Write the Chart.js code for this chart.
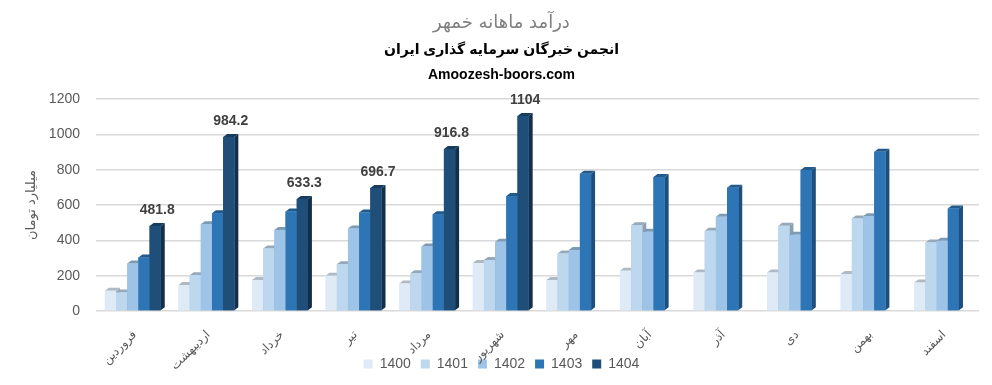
<!DOCTYPE html>
<html>
<head>
<meta charset="utf-8">
<script src="https://cdn.jsdelivr.net/npm/chart.js@4"></script>
<style>
  html, body { margin: 0; padding: 0; background: #fff; }
  #wrap { width: 992px; height: 385px; position: relative; }
</style>
</head>
<body>
<div id="wrap"><canvas id="incomeChart"></canvas></div>
<script>
// data
const months = ['فروردین', 'اردیبهشت', 'خرداد', 'تیر', 'مرداد', 'شهریور', 'مهر', 'آبان', 'آذر', 'دی', 'بهمن', 'اسفند'];
const years = ['1400', '1401', '1402', '1403', '1404'];
const y1400 = [115, 147, 175, 200, 156, 271, 175, 228, 218, 218, 209, 162];
const y1401 = [105, 203, 354, 265, 213, 288, 325, 486, 454, 482, 523, 388];
const y1402 = [269, 491, 459, 467, 365, 392, 345, 448, 533, 431, 537, 397];
const y1403 = [303, 553, 563, 557, 548, 651, 777, 758, 698, 798, 901, 580];
const y1404 = [481.8, 984.2, 633.3, 696.7, 916.8, 1104, null, null, null, null, null, null];
const yTicks = [0, 200, 400, 600, 800, 1000, 1200];

const series = [y1400, y1401, y1402, y1403, y1404];
const colors = ['#deebf7', '#bdd7ee', '#9dc3e6', '#2e75b6', '#1f4e79'];
const tops = ['#aeb9c4', '#95a9bb', '#7d9ab5', '#235a8c', '#173c5d'];
const sides = ['#a4b0bc', '#8a9fb2', '#6f8eab', '#1e4f7c', '#132f49'];
const DX = 4, DY = 3;

const fontLatin = '"Liberation Sans", "DejaVu Sans", sans-serif';
const fontFa = '"DejaVu Sans", "Liberation Sans", sans-serif';

// fake 3D: redraw each bar with a top and a right side face
const bar3d = {
    id: 'bar3d',
    afterDatasetsDraw(chart) {
        const ctx = chart.ctx;
        ctx.save();
        chart.data.datasets.forEach((ds, i) => {
            const meta = chart.getDatasetMeta(i);
            meta.data.forEach((bar, j) => {
                if (ds.data[j] == null) return;
                const { x, y, base, width } = bar.getProps(['x', 'y', 'base', 'width'], true);
                const l = x - width / 2, r = x + width / 2;
                ctx.fillStyle = sides[i];
                ctx.beginPath();
                ctx.moveTo(r, y); ctx.lineTo(r + DX, y - DY); ctx.lineTo(r + DX, base - DY); ctx.lineTo(r, base);
                ctx.closePath(); ctx.fill();
                ctx.fillStyle = tops[i];
                ctx.beginPath();
                ctx.moveTo(l, y); ctx.lineTo(r, y); ctx.lineTo(r + DX, y - DY); ctx.lineTo(l + DX, y - DY);
                ctx.closePath(); ctx.fill();
                ctx.fillStyle = colors[i];
                ctx.fillRect(l, y, width, base - y);
            });
        });
        // value labels on the 1404 series
        const last = chart.data.datasets.length - 1;
        ctx.font = 'bold 14px ' + fontLatin;
        ctx.fillStyle = '#404040';
        ctx.textAlign = 'center';
        ctx.textBaseline = 'bottom';
        chart.getDatasetMeta(last).data.forEach((bar, j) => {
            const v = chart.data.datasets[last].data[j];
            if (v == null) return;
            ctx.fillText(String(v), bar.x + DX / 2, bar.y - 9);
        });
        ctx.restore();
    },
    // rotated month labels (the built-in ones are clipped to the axis box)
    afterDraw(chart) {
        const ctx = chart.ctx;
        const xs = chart.scales.x;
        ctx.save();
        ctx.font = '12px ' + fontFa;
        ctx.fillStyle = '#595959';
        ctx.textAlign = 'right';
        ctx.textBaseline = 'middle';
        chart.data.labels.forEach((lab, i) => {
            ctx.save();
            ctx.translate(xs.getPixelForValue(i) + 2, xs.top + 22);
            ctx.rotate(-Math.PI / 4);
            ctx.fillText(lab, 0, 0);
            ctx.restore();
        });
        ctx.restore();
    }
};

new Chart(document.getElementById('incomeChart'), {
    type: 'bar',
    data: {
        labels: months,
        datasets: years.map((yr, i) => ({
            label: yr,
            data: series[i],
            backgroundColor: colors[i],
            borderWidth: 0,
            barPercentage: 1.0,
            categoryPercentage: 0.76
        }))
    },
    options: {
        responsive: true,
        maintainAspectRatio: false,
        animation: false,
        layout: {
            padding: { left: 24, right: 13, top: 6, bottom: 4 }
        },
        plugins: {
            title: {
                display: true,
                text: 'درآمد ماهانه خمهر',
                color: '#7f7f7f',
                font: { family: fontFa, size: 18, weight: 'normal' },
                padding: { top: 7, bottom: 3 }
            },
            subtitle: {
                display: true,
                text: ['انجمن خبرگان سرمایه گذاری ایران', 'Amoozesh-boors.com'],
                color: '#000',
                font: { family: fontLatin, size: 14, weight: 'bold', lineHeight: 1.8 },
                padding: { bottom: 11 }
            },
            legend: {
                position: 'bottom',
                labels: {
                    boxWidth: 9,
                    boxHeight: 9,
                    padding: 10,
                    color: '#595959',
                    font: { family: fontLatin, size: 14 }
                }
            },
            tooltip: { enabled: false }
        },
        scales: {
            x: {
                grid: { display: false },
                border: { display: false },
                ticks: { display: false },
                afterFit: (scale) => { scale.height = 36; }
            },
            y: {
                min: 0,
                max: 1200,
                afterBuildTicks: (axis) => { axis.ticks = yTicks.map(v => ({ value: v })); },
                afterFit: (scale) => { scale.width = 72; },
                grid: { color: '#d9d9d9', lineWidth: 1.5, drawTicks: false },
                border: { display: false },
                ticks: {
                    color: '#595959',
                    font: { family: fontLatin, size: 14 },
                    padding: 16,
                    callback: (v) => String(v)
                },
                title: {
                    display: true,
                    text: 'میلیارد تومان',
                    color: '#595959',
                    font: { family: fontFa, size: 13 },
                    padding: { top: 0, bottom: 8 }
                }
            }
        }
    },
    plugins: [bar3d]
});
</script>
</body>
</html>
